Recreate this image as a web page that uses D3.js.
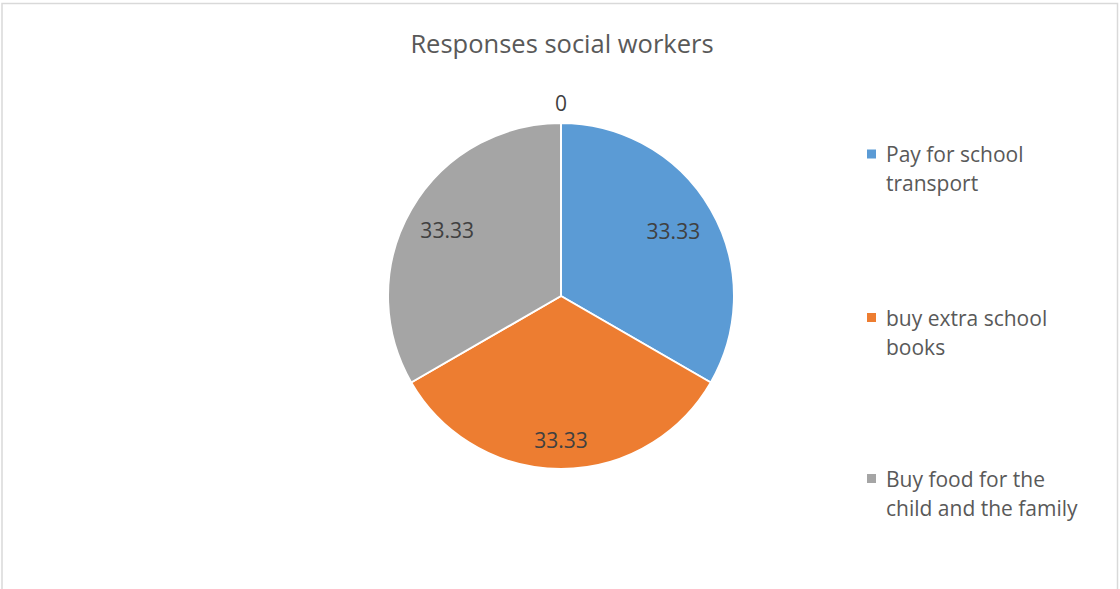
<!DOCTYPE html>
<html>
<head>
<meta charset="utf-8">
<script src="https://cdn.jsdelivr.net/npm/d3@7"></script>
<style>
  html, body { margin: 0; padding: 0; background: #ffffff; }
  svg { display: block; }
  text { font-family: "Open Sans", "Noto Sans", sans-serif; }
</style>
</head>
<body>
<svg id="chart" width="1120" height="589"></svg>
<script>
// Chart data
const title = "Responses social workers";
const categories = [
  "Pay for school transport",
  "buy extra school books",
  "Buy food for the child and the family",
  ""
];
const values = [33.33, 33.33, 33.33, 0];
const colors = ["#5b9bd5", "#ed7d31", "#a5a5a5", "#ffc000"];

const W = 1120, H = 589;
const svg = d3.select("#chart");

// Chart area frame
svg.append("rect")
  .attr("x", 2).attr("y", 3.5)
  .attr("width", 1115.5).attr("height", H + 10)
  .attr("fill", "#ffffff")
  .attr("stroke", "#d9d9d9")
  .attr("stroke-width", 1.5);

// Title
svg.append("text")
  .attr("x", 562).attr("y", 43)
  .attr("text-anchor", "middle")
  .attr("dominant-baseline", "central")
  .attr("fill", "#595959")
  .style("font-size", "25.5px")
  .text(title);

// Pie
const cx = 561, cy = 296, radius = 173;
const pie = d3.pie().sort(null).value(d => d.value);
const arcs = pie(categories.map((c, i) => ({ name: c, value: values[i], color: colors[i] })));
const arc = d3.arc().innerRadius(0).outerRadius(radius);

const g = svg.append("g").attr("transform", `translate(${cx},${cy})`);

g.selectAll("path.slice")
  .data(arcs.filter(d => d.data.value > 0))
  .join("path")
  .attr("class", "slice")
  .attr("d", arc)
  .attr("fill", d => d.data.color)
  .attr("stroke", "#ffffff")
  .attr("stroke-width", 2)
  .attr("stroke-linejoin", "round");

// Data labels: best-fit inside the slices, outside for empty slices
const insideFactor = [0.75, 0.83, 0.76];
g.selectAll("text.label")
  .data(arcs)
  .join("text")
  .attr("class", "label")
  .attr("transform", (d, i) => {
    const a = (d.startAngle + d.endAngle) / 2;
    const rr = d.data.value > 0 ? radius * insideFactor[i] : radius + 20;
    return `translate(${Math.sin(a) * rr},${-Math.cos(a) * rr})`;
  })
  .attr("text-anchor", "middle")
  .attr("dominant-baseline", "central")
  .attr("fill", "#404040")
  .style("font-size", "21px")
  .text(d => String(d.data.value));

// Legend
const legendX = 867, legendCenters = [168.5, 332, 493];
const lineH = 29, maxW = 205;
const legend = svg.append("g");

categories.filter(c => c !== "").forEach((name, i) => {
  const item = legend.append("g");
  const t = item.append("text")
    .attr("fill", "#595959")
    .style("font-size", "21px");
  // wrap the entry onto lines no wider than maxW
  const words = name.split(" ");
  const lines = [];
  let line = [];
  const probe = t.append("tspan");
  words.forEach(w => {
    const trial = line.concat(w).join(" ");
    probe.text(trial);
    if (probe.node().getComputedTextLength() > maxW && line.length) {
      lines.push(line.join(" "));
      line = [w];
    } else {
      line.push(w);
    }
  });
  lines.push(line.join(" "));
  probe.remove();
  const top = legendCenters[i] - (lines.length - 1) * lineH / 2;
  lines.forEach((l, k) => {
    t.append("tspan")
      .attr("x", legendX + 19)
      .attr("y", top + k * lineH)
      .attr("dominant-baseline", "central")
      .text(l);
  });
  item.append("rect")
    .attr("x", legendX).attr("y", top - 4.5)
    .attr("width", 9).attr("height", 9)
    .attr("fill", colors[i]);
});
</script>
</body>
</html>
